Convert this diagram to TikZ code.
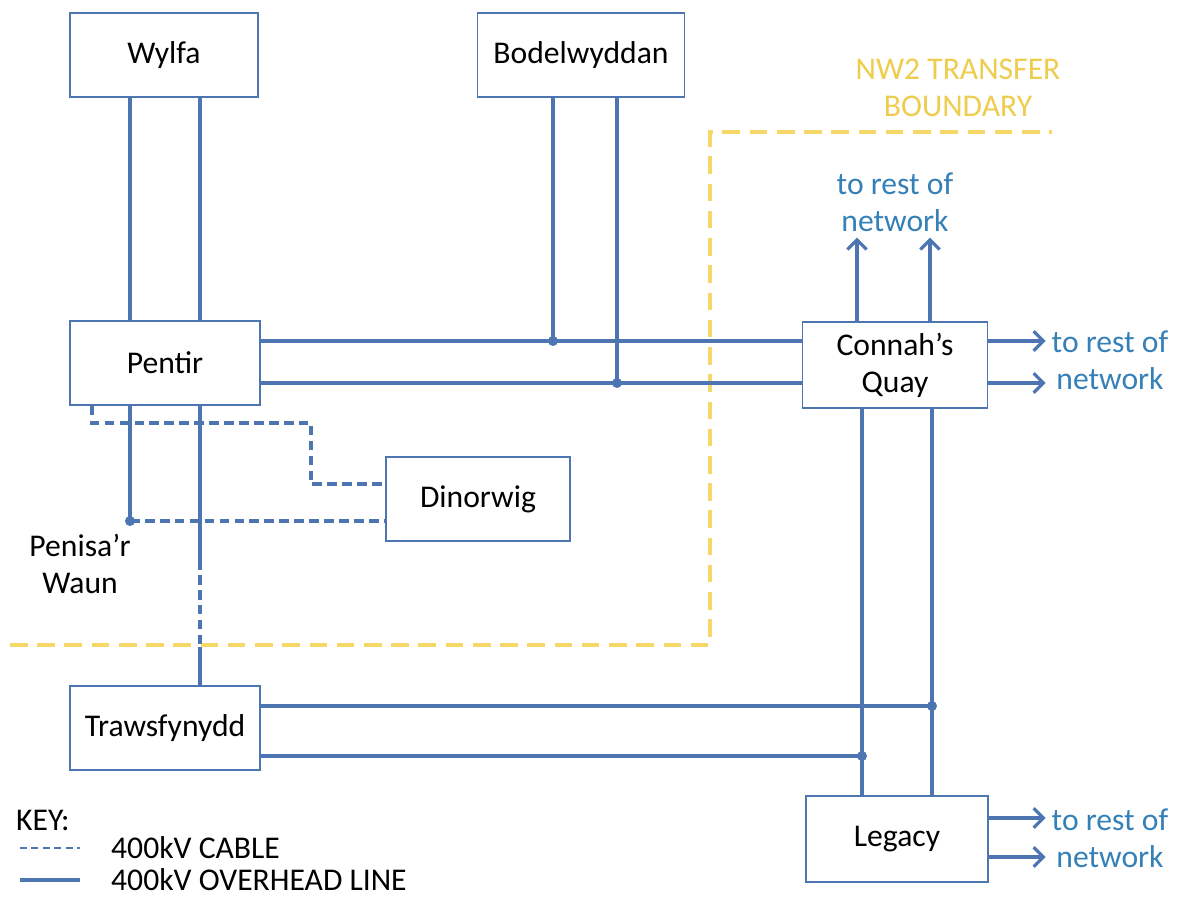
\documentclass[tikz,border=0pt]{standalone}
\usepackage{fontspec}
\setmainfont{Carlito}
\usetikzlibrary{arrows.meta,calc}
\definecolor{lineblue}{RGB}{76,117,178}
\definecolor{textblue}{RGB}{54,128,184}
\definecolor{bndyellow}{RGB}{246,216,104}
\definecolor{lblyellow}{RGB}{238,204,78}
\tikzset{
	stn/.style={draw=lineblue, line width=0.9pt, minimum height=1.68cm, font=\fontsize{18}{21}\selectfont},
	lbl/.style={font=\fontsize{18}{21}\selectfont, align=center},
	ohl/.style={draw=lineblue, line width=1.8pt},
	cable/.style={draw=lineblue, line width=1.8pt, dash pattern=on 5.5pt off 3pt},
	bnd/.style={draw=bndyellow, line width=2.8pt, dash pattern=on 10pt off 5.5pt},
	toarr/.style={ohl, -{Straight Barb[length=5.5pt,width=11pt]}}
}
\begin{document}
\begin{tikzpicture}[x=0.02cm,y=-0.02cm]
	\useasboundingbox (0,0) rectangle (1178,900);
	% stations
	\node[stn, minimum width=3.76cm] (wylfa) at (164,55) {Wylfa};
	\node[stn, minimum width=4.14cm] (bodel) at (581,55) {Bodelwyddan};
	\node[stn, minimum width=3.8cm] (pentir) at (165,363) {Pentir};
	\node[stn, minimum width=3.7cm, minimum height=1.72cm, align=center] (connah) at (895,365) {Connah’s\\Quay};
	\node[stn, minimum width=3.68cm] (dinorwig) at (478,499) {Dinorwig};
	\node[stn, minimum width=3.8cm] (traws) at (165,728) {Trawsfynydd};
	\node[stn, minimum width=3.64cm, minimum height=1.72cm] (legacy) at (897,839) {Legacy};
	% labels
	\node[lbl, text=lblyellow] (nw2) at (958,88) {NW2 TRANSFER\\BOUNDARY};
	\node[lbl, text=textblue] (restup) at (895,202) {to rest of\\network};
	\node[lbl, text=textblue] (restcq) at (1110,360) {to rest of\\network};
	\node[lbl, text=textblue] (restlg) at (1110,838) {to rest of\\network};
	\node[lbl] (penisa) at (80,564) {Penisa’r\\Waun};
	% junctions
	\coordinate (j1) at (553,341);
	\coordinate (j2) at (617,383);
	\coordinate (j3) at (932,706);
	\coordinate (j4) at (862,756);
	\coordinate (pw) at (130,521);
	% boundary
	\draw[bnd] (10,645) -- (710,645) -- (710,132) -- (1052,132);
	% overhead lines
	\foreach \x in {130,200}
		\draw[ohl] (wylfa.south -| \x,0) -- (pentir.north -| \x,0);
	\draw[ohl] (bodel.south -| j1) -- (j1);
	\draw[ohl] (bodel.south -| j2) -- (j2);
	\foreach \y in {341,383} {
		\draw[ohl] (pentir.east |- 0,\y) -- (connah.west |- 0,\y);
		\draw[toarr] (connah.east |- 0,\y) -- (restcq.west |- 0,\y);
	}
	\foreach \x in {857,930}
		\draw[toarr] (connah.north -| \x,0) -- (restup.south -| \x,0);
	\foreach \x in {862,932}
		\draw[ohl] (connah.south -| \x,0) -- (legacy.north -| \x,0);
	\foreach \y in {818,857}
		\draw[toarr] (legacy.east |- 0,\y) -- (restlg.west |- 0,\y);
	\draw[ohl] (traws.east |- j3) -- (j3);
	\draw[ohl] (traws.east |- j4) -- (j4);
	\draw[ohl] (pentir.south -| pw) -- (pw);
	\draw[ohl] (pentir.south -| 200,0) -- (200,560);
	\draw[cable] (200,560) -- (200,647);
	\draw[ohl] (200,647) -- (traws.north -| 200,0);
	% cables
	\draw[cable] (pw) -- (dinorwig.west |- pw);
	\draw[cable] (pentir.south -| 92,0) -- (92,423) -- (311,423) -- (311,484) -- (dinorwig.west |- 0,484);
	\foreach \p in {j1,j2,j3,j4,pw}
		\fill[lineblue] (\p) circle (0.1cm);
	% key
	\node[lbl, anchor=west] (key) at (10,820) {KEY:};
	\node[lbl, anchor=west] (kcable) at (105,848) {400kV CABLE};
	\node[lbl, anchor=west] (kohl) at (105,880) {400kV OVERHEAD LINE};
	\draw[cable, line width=1.3pt, dash pattern=on 4pt off 2.5pt] ($(kcable.west)+(-85,0)$) -- ($(kcable.west)+(-25,0)$);
	\draw[ohl] ($(kohl.west)+(-85,0)$) -- ($(kohl.west)+(-25,0)$);
\end{tikzpicture}
\end{document}
